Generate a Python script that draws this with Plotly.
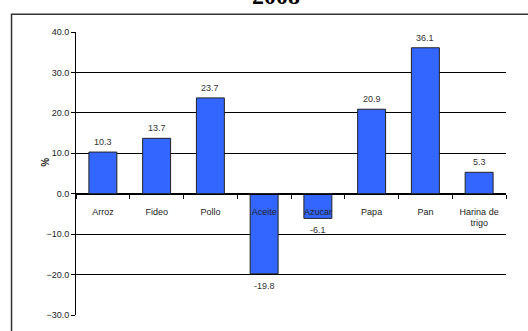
import plotly.graph_objects as go

# Variación porcentual de precios por producto, 2008
productos = ["Arroz", "Fideo", "Pollo", "Aceite", "Azucar", "Papa", "Pan", "Harina de<br>trigo"]
variacion = [10.3, 13.7, 23.7, -19.8, -6.1, 20.9, 36.1, 5.3]
titulo = "2008"
eje_y_titulo = "%"
y_ticks = [-30, -20, -10, 0, 10, 20, 30, 40]

W, H = 528, 331
ML, MR, MT, MB = 75.5, 22.3, 32, 11
pw = W - ML - MR
ph = H - MT - MB
y_min, y_max = -30, 40

def px_to_paper_x(p):
    return (p - ML) / pw

def px_to_paper_y(p):
    return (H - MB - p) / ph

zero_pos = (0 - y_min) / (y_max - y_min)

fig = go.Figure()
fig.add_trace(go.Bar(
    x=list(range(len(productos))),
    y=variacion,
    width=0.52,
    marker=dict(color="#3366FF", line=dict(color="#222222", width=1)),
    hoverinfo="skip",
))

annotations = []
for i, v in enumerate(variacion):
    annotations.append(dict(
        x=i, y=v, xref="x", yref="y",
        text=f"{v:.1f}", showarrow=False,
        yanchor="bottom" if v >= 0 else "top",
        yshift=3 if v >= 0 else -5,
        font=dict(family="Liberation Sans, Arial", size=9, color="#333333"),
    ))

annotations.append(dict(
    x=px_to_paper_x(276), y=px_to_paper_y(11), xref="paper", yref="paper",
    text=f"<b>{titulo}</b>", showarrow=False, yanchor="bottom",
    font=dict(family="Liberation Serif, Times New Roman", size=24, color="#000000"),
))
annotations.append(dict(
    x=px_to_paper_x(38), y=px_to_paper_y(165), xref="paper", yref="paper",
    text=f"<b>{eje_y_titulo}</b>", showarrow=False, textangle=-90,
    font=dict(family="Liberation Sans, Arial", size=10, color="#222222"),
))

shapes = [dict(
    type="rect", xref="paper", yref="paper",
    x0=px_to_paper_x(11), x1=px_to_paper_x(540),
    y0=px_to_paper_y(345), y1=px_to_paper_y(14),
    line=dict(color="#333333", width=1.5), fillcolor="rgba(0,0,0,0)", layer="below",
)]

fig.update_layout(
    width=W, height=H,
    margin=dict(l=ML, r=MR, t=MT, b=MB, pad=0),
    paper_bgcolor="white", plot_bgcolor="white",
    showlegend=False,
    annotations=annotations,
    shapes=shapes,
    xaxis=dict(
        type="category",
        tickmode="array",
        tickvals=list(range(len(productos))),
        ticktext=productos,
        range=[-0.5, len(productos) - 0.5],
        anchor="free", position=zero_pos,
        showline=True, linecolor="#000000", linewidth=1,
        ticks="outside", ticklen=4, tickcolor="#000000",
        tickson="boundaries", ticklabelstandoff=9,
        showgrid=False, zeroline=False,
        tickfont=dict(family="Liberation Sans, Arial", size=9, color="#222222"),
        tickangle=0,
    ),
    yaxis=dict(
        range=[y_min, y_max],
        tickvals=y_ticks, tickformat=".1f",
        showline=True, linecolor="#000000", linewidth=1,
        ticks="outside", ticklen=4, tickcolor="#000000",
        showgrid=True, gridcolor="#000000", gridwidth=1,
        zeroline=False,
        tickfont=dict(family="Liberation Sans, Arial", size=9, color="#222222"),
    ),
)

fig.write_html("out.html")
